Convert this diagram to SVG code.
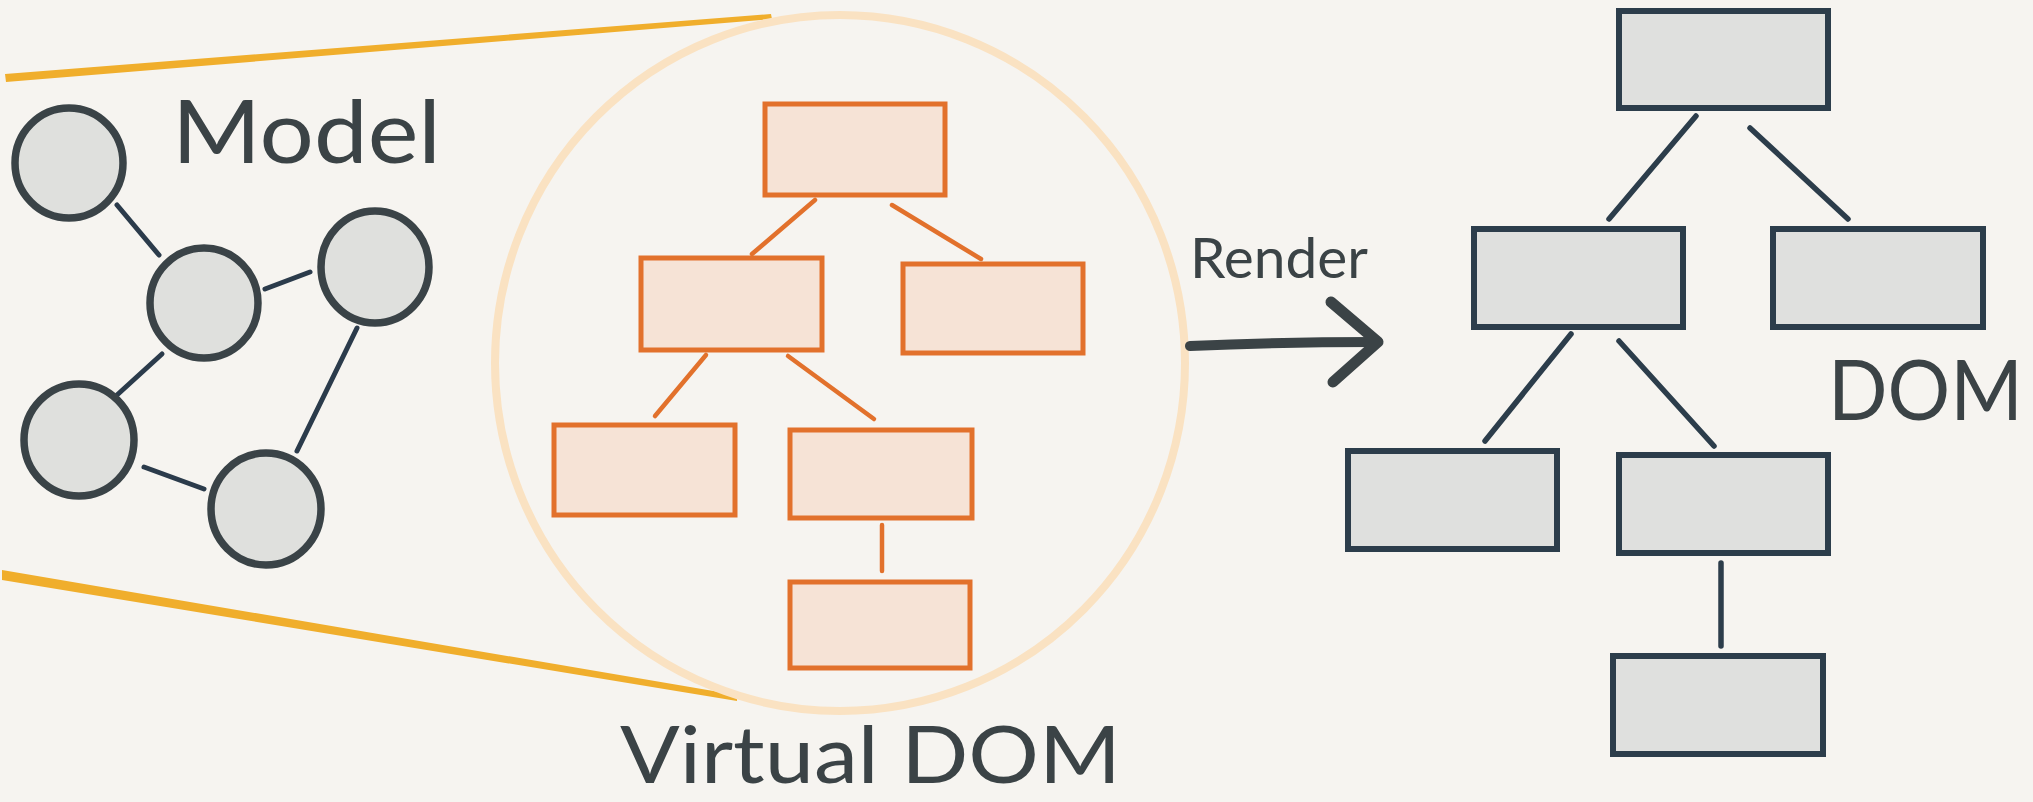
<svg xmlns="http://www.w3.org/2000/svg" width="2033" height="802" viewBox="0 0 2033 802">
<style>
.bg{fill:#f6f4f0}
.yl{fill:#f0ae2c}
.mc{fill:#dfe0dd;stroke:#3a4347;stroke-width:7.5}
.ml{stroke:#2b3b4b;stroke-width:5;stroke-linecap:round;fill:none}
.vb{fill:#f6e3d6;stroke:#e2712c;stroke-width:5}
.vl{stroke:#e2712c;stroke-width:4.5;stroke-linecap:round;fill:none}
.db{fill:#dfe0de;stroke:#2c3d4b;stroke-width:6}
.dl{stroke:#2c3d4b;stroke-width:5.5;stroke-linecap:round;fill:none}
.lbl{font-family:Lato,"Liberation Sans",sans-serif;fill:#3b4346}
.arr{stroke:#3b4346;stroke-linecap:round;stroke-linejoin:round;fill:none}
</style>
<rect class="bg" x="0" y="0" width="2033" height="802"/>
<g id="zoom-lines">
<polygon class="yl" points="5,74 771,14 772,19 6,82"/>
<polygon class="yl" points="2,570 737,695 737,701 2,580"/>
</g>
<g id="virtual-dom-circle">
<ellipse cx="840" cy="363" rx="345" ry="348" fill="none" stroke="#fae2c2" stroke-width="8"/>
</g>
<g id="connectors">
<line class="ml" x1="117" y1="205" x2="159" y2="255"/>
<line class="ml" x1="265" y1="289" x2="310" y2="272"/>
<line class="ml" x1="357" y1="328" x2="297" y2="451"/>
<line class="ml" x1="162" y1="354" x2="117" y2="395"/>
<line class="ml" x1="144" y1="467" x2="204" y2="489"/>
<line class="vl" x1="815" y1="200" x2="752" y2="254"/>
<line class="vl" x1="892" y1="205" x2="981" y2="259"/>
<line class="vl" x1="706" y1="355" x2="655" y2="416"/>
<line class="vl" x1="788" y1="356" x2="874" y2="419"/>
<line class="vl" x1="882" y1="525" x2="882" y2="571"/>
<line class="dl" x1="1696" y1="116" x2="1609" y2="219"/>
<line class="dl" x1="1750" y1="128" x2="1848" y2="219"/>
<line class="dl" x1="1571" y1="334" x2="1485" y2="441"/>
<line class="dl" x1="1619" y1="341" x2="1714" y2="446"/>
<line class="dl" x1="1721" y1="563" x2="1721" y2="646"/>
<g id="render-arrow">
<path class="arr" d="M1190,346 Q1280,342 1376,342" stroke-width="10"/>
<path class="arr" d="M1331,302 L1378,342 L1333,382" stroke-width="11"/>
</g>
</g>
<g id="model-nodes">
<ellipse id="m1" class="mc" cx="69" cy="163" rx="54" ry="55"/>
<ellipse id="m2" class="mc" cx="204" cy="303" rx="54" ry="55"/>
<ellipse id="m3" class="mc" cx="375" cy="267" rx="54" ry="56"/>
<ellipse id="m4" class="mc" cx="79" cy="440" rx="55" ry="56"/>
<ellipse id="m5" class="mc" cx="266" cy="509" rx="55" ry="56"/>
</g>
<g id="vdom-nodes">
<rect id="v1" class="vb" x="765" y="104" width="180" height="91"/>
<rect id="v2" class="vb" x="641" y="258" width="181" height="92"/>
<rect id="v3" class="vb" x="903" y="264" width="180" height="89"/>
<rect id="v4" class="vb" x="554" y="425" width="181" height="90"/>
<rect id="v5" class="vb" x="790" y="430" width="182" height="88"/>
<rect id="v6" class="vb" x="790" y="582" width="180" height="86"/>
</g>
<g id="dom-nodes">
<rect id="d1" class="db" x="1619" y="11" width="209" height="97"/>
<rect id="d2" class="db" x="1474" y="229" width="209" height="98"/>
<rect id="d3" class="db" x="1773" y="229" width="210" height="98"/>
<rect id="d4" class="db" x="1348" y="451" width="209" height="98"/>
<rect id="d5" class="db" x="1619" y="455" width="209" height="98"/>
<rect id="d6" class="db" x="1613" y="656" width="210" height="98"/>
</g>
<g id="labels">
<text class="lbl" x="172" y="163" font-size="88" textLength="269" lengthAdjust="spacingAndGlyphs">Model</text>
<text class="lbl" x="620" y="783" font-size="80" textLength="501" lengthAdjust="spacingAndGlyphs">Virtual DOM</text>
<text class="lbl" x="1190" y="278" font-size="56" textLength="178" lengthAdjust="spacingAndGlyphs">Render</text>
<text class="lbl" x="1828" y="420" font-size="83" textLength="195" lengthAdjust="spacingAndGlyphs">DOM</text>
</g>
</svg>
